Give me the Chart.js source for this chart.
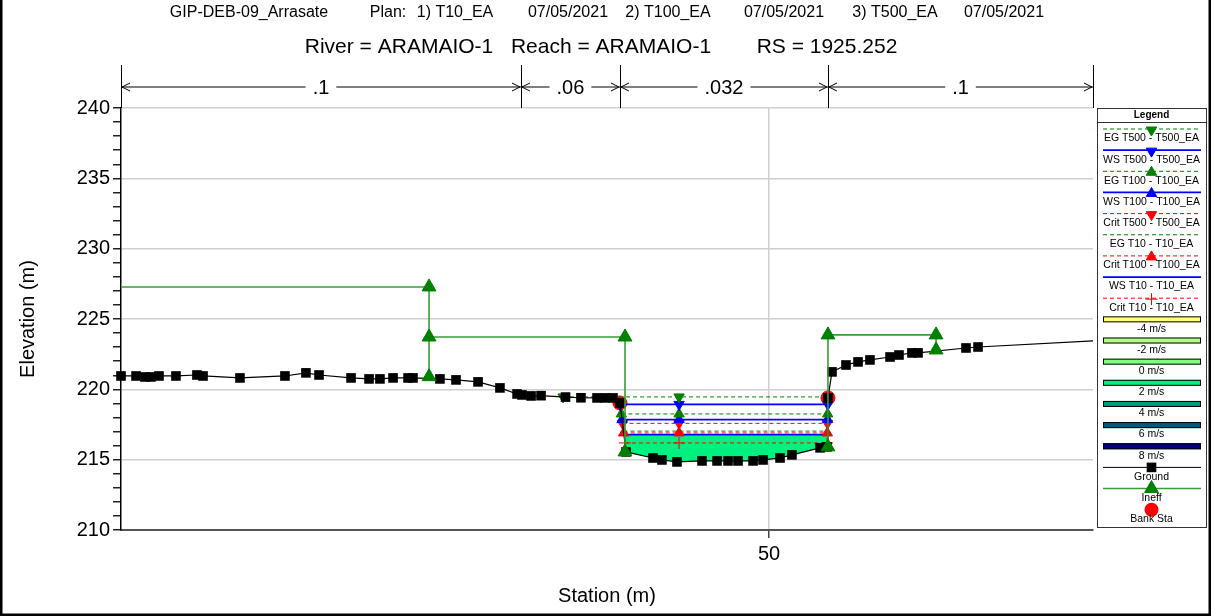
<!DOCTYPE html>
<html>
<head>
<meta charset="utf-8">
<script src="https://cdn.jsdelivr.net/npm/chart.js@4.4.1/dist/chart.umd.min.js"></script>
<style>
  html, body { margin: 0; padding: 0; background: #fff; }
  #seccion { display: block; }
</style>
</head>
<body>
<canvas id="seccion" width="1212" height="616"></canvas>
<script>
// Cross section RS 1925.252 - stations and elevations in metres
const groundSta = [0, 1.16, 1.85, 2.31, 2.93, 4.24, 5.86, 6.33, 9.18, 12.65, 14.27, 15.28, 17.75, 19.14, 19.98,
    20.99, 22.15, 22.53, 24.61, 25.85, 27.55, 29.24, 30.56, 30.94, 31.64, 32.41, 34.3, 35.49, 36.73, 37.35,
    37.96, 38.5, 38.97, 41.05, 41.74, 42.9, 44.83, 45.99, 46.84, 47.61, 48.77, 49.54, 50.85, 51.77, 53.94,
    54.48, 54.55, 54.86, 55.94, 56.87, 57.79, 59.34, 60.03, 61.03, 61.5, 65.2, 66.13, 77.1];
const groundElev = [220.95, 220.95, 220.88, 220.88, 220.95, 220.95, 221.02, 220.95, 220.81, 220.95, 221.17, 221.02,
    220.81, 220.74, 220.74, 220.81, 220.81, 220.81, 220.74, 220.67, 220.53, 220.1, 219.67, 219.6, 219.53, 219.55,
    219.45, 219.4, 219.39, 219.39, 219.39, 219.03, 215.55, 215.12, 214.98, 214.84, 214.91, 214.91, 214.91, 214.91,
    214.91, 214.98, 215.12, 215.34, 215.84, 215.91, 219.39, 221.24, 221.73, 221.95, 222.09, 222.3, 222.44, 222.59,
    222.59, 222.94, 223.01, 223.54];

const bankSta = [38.5, 54.55];
const bankElev = [219.03, 219.39];

// ineffective flow areas, null breaks the polyline
const ineffSta = [0, 23.77, 23.77, null, 23.77, 38.89, 38.89, null, 54.55, 54.55, 62.89, 62.89];
const ineffElev = [227.28, 227.28, 220.9, null, 223.72, 223.72, 215.55, null, 215.91, 223.87, 223.87, 222.8];
const ineffMark = [false, true, true, false, true, true, true, false, true, true, true, true];

const profileNames = ['EG T500 - T500_EA', 'WS T500 - T500_EA', 'EG T100 - T100_EA', 'WS T100 - T100_EA',
    'Crit T500 - T500_EA', 'EG T10 - T10_EA', 'Crit T100 - T100_EA', 'WS T10 - T10_EA', 'Crit T10 - T10_EA'];
const profileElev = [219.46, 218.93, 218.25, 217.85, 217.58, 217.03, 216.9, 216.78, 216.19];
const markerSta = 43.06;

const nBreaks = [0, 30.86, 38.5, 54.55, 77.1];
const nValues = ['.1', '.06', '.032', '.1'];

const velLabels = ['-4 m/s', '-2 m/s', '0 m/s', '2 m/s', '4 m/s', '6 m/s', '8 m/s'];
const velColors = ['#FFFF80', '#B4FF78', '#80FF80', '#00F080', '#009E80', '#005A80', '#000080'];

const xTicks = [50];
const yMin = 210, yMax = 240, xMin = 0, xMax = 75;

const tituloPlan = [
    ['GIP-DEB-09_Arrasate', 249], ['Plan:', 388], ['1) T10_EA', 455], ['07/05/2021', 568],
    ['2) T100_EA', 668], ['07/05/2021', 784], ['3) T500_EA', 895], ['07/05/2021', 1004]
];
const tituloRS = [['River = ARAMAIO-1', 399], ['Reach = ARAMAIO-1', 611], ['RS = 1925.252', 827]];

const FUENTE = 'Arial, "Liberation Sans", sans-serif';
const VERDE = '#008000', AZUL = '#0000FF', ROJO = '#FF0000';

// line style per profile (same order as profileNames)
const estilos = [
    {color: VERDE, dash: [4, 3], width: 1, marker: 'down'},
    {color: AZUL, dash: [], width: 1.8, marker: 'down'},
    {color: VERDE, dash: [4, 3], width: 1, marker: 'up'},
    {color: AZUL, dash: [], width: 1.8, marker: 'up'},
    {color: ROJO, dash: [4, 3], width: 1, marker: 'down'},
    {color: VERDE, dash: [4, 3], width: 1, marker: null},
    {color: ROJO, dash: [4, 3], width: 1, marker: 'up'},
    {color: AZUL, dash: [], width: 1.8, marker: null},
    {color: ROJO, dash: [4, 3], width: 1, marker: 'cross'}
];

function interpolar(i, j, nivel) {
    const t = (nivel - groundElev[i]) / (groundElev[j] - groundElev[i]);
    return groundSta[i] + t * (groundSta[j] - groundSta[i]);
}

// walks out from the thalweg until the ground is above the water level
function bordesAgua(nivel) {
    let fondo = 0;
    groundElev.forEach((z, k) => { if (z < groundElev[fondo]) fondo = k; });
    let i = fondo;
    while (i > 0 && groundElev[i - 1] < nivel) i--;
    let j = fondo;
    while (j < groundElev.length - 1 && groundElev[j + 1] < nivel) j++;
    return {
        izq: interpolar(i - 1, i, nivel), der: interpolar(j + 1, j, nivel), iIzq: i, iDer: j
    };
}

function marcador(tipo) {
    if (tipo === 'cross') return {pointStyle: 'cross', rotation: 0};
    return {pointStyle: 'triangle', rotation: tipo === 'down' ? 180 : 0};
}

const datasets = [];

// wetted area under WS T10
const bordeT10 = bordesAgua(profileElev[7]);
const mojado = [{x: bordeT10.izq, y: profileElev[7]}, {x: bordeT10.der, y: profileElev[7]}];
for (let k = bordeT10.iDer; k >= bordeT10.iIzq; k--) {
    mojado.push({x: groundSta[k], y: groundElev[k]});
}
datasets.push({
    data: mojado, fill: 'shape', backgroundColor: '#00F080', borderWidth: 0,
    pointRadius: 0, order: 50
});

datasets.push({
    data: bankSta.map((s, k) => ({x: s, y: bankElev[k]})),
    showLine: false, pointStyle: 'circle', pointRadius: 7,
    pointBackgroundColor: ROJO, pointBorderColor: ROJO, order: 40
});

profileElev.forEach((nivel, k) => {
    const b = bordesAgua(nivel);
    const e = estilos[k];
    const m = marcador(e.marker);
    datasets.push({
        data: [{x: b.izq, y: nivel}, {x: markerSta, y: nivel}, {x: b.der, y: nivel}],
        borderColor: e.color, borderWidth: e.width, borderDash: e.dash,
        pointRadius: e.marker ? 6 : 0,
        pointStyle: m.pointStyle, pointRotation: m.rotation,
        pointBackgroundColor: e.color, pointBorderColor: e.color, pointBorderWidth: 1,
        order: 30
    });
});

datasets.push({
    data: groundSta.map((s, k) => ({x: s, y: groundElev[k]})),
    borderColor: '#000', borderWidth: 1.2,
    pointStyle: 'rect', pointRadius: 6.8,
    pointBackgroundColor: '#000', pointBorderColor: '#000', pointBorderWidth: 0,
    clip: {left: 10, right: 0, top: 0, bottom: 0}, order: 20
});

datasets.push({
    data: ineffSta.map((s, k) => ({x: s === null ? NaN : s, y: ineffElev[k]})),
    borderColor: '#3C9A3C', borderWidth: 1.6, spanGaps: false,
    pointStyle: 'triangle', pointRadius: ineffMark.map(v => v ? 8 : 0),
    pointBackgroundColor: VERDE, pointBorderColor: VERDE, pointBorderWidth: 1,
    clip: false, order: 10
});

function dibujarFlecha(ctx, x, y, dir) {
    ctx.beginPath();
    ctx.moveTo(x + dir * 8, y - 4);
    ctx.lineTo(x, y);
    ctx.lineTo(x + dir * 8, y + 4);
    ctx.stroke();
}

const decoracion = {
    id: 'decoracion',
    afterDraw(chart) {
        const ctx = chart.ctx;
        const xs = chart.scales.x;
        const area = chart.chartArea;
        const W = chart.width, H = chart.height;
        ctx.save();

        // titles
        ctx.fillStyle = '#000';
        ctx.textAlign = 'center';
        ctx.textBaseline = 'middle';
        ctx.font = '16px ' + FUENTE;
        tituloPlan.forEach(([t, x]) => ctx.fillText(t, x, 13));
        ctx.font = '21px ' + FUENTE;
        tituloRS.forEach(([t, x]) => ctx.fillText(t, x, 47));

        // Manning's n bar
        const yBar = 87;
        const px = nBreaks.map(s => Math.max(area.left, Math.min(area.right, xs.getPixelForValue(s))));
        ctx.strokeStyle = '#000';
        ctx.lineWidth = 1;
        px.forEach(x => {
            ctx.beginPath();
            ctx.moveTo(Math.round(x) + 0.5, 65);
            ctx.lineTo(Math.round(x) + 0.5, area.top);
            ctx.stroke();
        });
        ctx.font = '20px ' + FUENTE;
        nValues.forEach((n, k) => {
            const a = px[k], b = px[k + 1], c = (a + b) / 2;
            const w = ctx.measureText(n).width / 2 + 7;
            ctx.beginPath();
            ctx.moveTo(a, yBar); ctx.lineTo(c - w, yBar);
            ctx.moveTo(c + w, yBar); ctx.lineTo(b, yBar);
            ctx.stroke();
            dibujarFlecha(ctx, a + 1, yBar, 1);
            dibujarFlecha(ctx, b - 1, yBar, -1);
            ctx.fillText(n, c, yBar + 1);
        });

        // legend panel
        const L = 1097, T = 108, R = 1206, B = 527;
        const cx = (L + R) / 2, x0 = 1103, x1 = 1201, paso = 21.15;
        ctx.fillStyle = '#fff';
        ctx.fillRect(L, T, R - L, B - T);
        ctx.strokeStyle = '#333';
        ctx.lineWidth = 1;
        ctx.strokeRect(L + 0.5, T + 0.5, R - L, B - T);
        ctx.beginPath();
        ctx.moveTo(L, T + 14.5); ctx.lineTo(R, T + 14.5);
        ctx.stroke();
        ctx.fillStyle = '#000';
        ctx.font = 'bold 10px ' + FUENTE;
        ctx.fillText('Legend', cx, T + 7.5);

        const texto = (t, y) => {
            ctx.fillStyle = '#000';
            ctx.font = '10.5px ' + FUENTE;
            ctx.fillText(t, cx, y + 9.5);
        };
        const punto = (opts, color, y) => {
            ctx.fillStyle = color;
            ctx.strokeStyle = color;
            ctx.lineWidth = 1;
            ctx.setLineDash([]);
            Chart.helpers.drawPoint(ctx, opts, cx, y);
        };

        let y = 129;
        profileNames.forEach((nombre, k) => {
            const e = estilos[k];
            ctx.strokeStyle = e.color;
            ctx.lineWidth = e.width;
            ctx.setLineDash(e.dash);
            ctx.beginPath();
            ctx.moveTo(x0, y); ctx.lineTo(x1, y);
            ctx.stroke();
            ctx.setLineDash([]);
            if (e.marker) {
                const m = marcador(e.marker);
                punto({pointStyle: m.pointStyle, rotation: m.rotation, radius: 6, borderWidth: 1}, e.color, y + 1);
            }
            texto(nombre, y);
            y += paso;
        });
        velLabels.forEach((v, k) => {
            ctx.fillStyle = velColors[k];
            ctx.fillRect(x0, y - 3, x1 - x0, 6);
            ctx.strokeStyle = '#000';
            ctx.lineWidth = 1;
            ctx.strokeRect(x0 + 0.5, y - 2.5, x1 - x0 - 1, 5);
            texto(v, y);
            y += paso;
        });
        ctx.strokeStyle = '#000';
        ctx.lineWidth = 1;
        ctx.beginPath(); ctx.moveTo(x0, y); ctx.lineTo(x1, y); ctx.stroke();
        punto({pointStyle: 'rect', rotation: 0, radius: 6.8, borderWidth: 0}, '#000', y);
        texto('Ground', y);
        y += paso;
        ctx.strokeStyle = '#3C9A3C';
        ctx.lineWidth = 1.5;
        ctx.beginPath(); ctx.moveTo(x0, y); ctx.lineTo(x1, y); ctx.stroke();
        punto({pointStyle: 'triangle', rotation: 0, radius: 8, borderWidth: 1}, VERDE, y);
        texto('Ineff', y);
        y += paso;
        punto({pointStyle: 'circle', rotation: 0, radius: 7, borderWidth: 0}, ROJO, y);
        texto('Bank Sta', y);

        // outer frame
        ctx.strokeStyle = '#000';
        ctx.lineWidth = 2.5;
        ctx.beginPath();
        ctx.moveTo(1.25, 0); ctx.lineTo(1.25, H - 1.25);
        ctx.lineTo(W - 2.25, H - 1.25); ctx.lineTo(W - 2.25, 0);
        ctx.stroke();
        ctx.restore();
    }
};

new Chart(document.getElementById('seccion'), {
    type: 'line',
    data: {datasets: datasets},
    options: {
        responsive: false,
        animation: false,
        devicePixelRatio: 1,
        layout: {padding: {top: 108, right: 119, left: 0, bottom: 0}},
        elements: {line: {tension: 0}},
        plugins: {legend: {display: false}, tooltip: {enabled: false}, title: {display: false}},
        scales: {
            x: {
                type: 'linear', min: xMin, max: xMax,
                afterBuildTicks: s => { s.ticks = xTicks.map(v => ({value: v})); },
                afterFit: s => { s.height = 86; },
                ticks: {font: {family: FUENTE, size: 20}, color: '#000', padding: 4, maxRotation: 0},
                grid: {color: '#D0D0D0', lineWidth: 1.5, tickColor: '#444', tickLength: 8},
                border: {color: '#555', width: 2},
                title: {display: true, text: 'Station (m)', font: {family: FUENTE, size: 20}, color: '#000',
                    padding: {top: 0, bottom: 8}}
            },
            y: {
                min: yMin, max: yMax,
                afterFit: s => { s.width = 121; },
                ticks: {
                    stepSize: 1, autoSkip: false, font: {family: FUENTE, size: 20}, color: '#000', padding: 3,
                    callback: v => (v % 5 === 0 ? v : '')
                },
                grid: {
                    color: c => (c.tick && c.tick.value % 5 === 0 ? '#D0D0D0' : 'rgba(0,0,0,0)'),
                    lineWidth: 1.5, tickColor: '#222', tickLength: 8
                },
                border: {color: '#000', width: 1.5},
                title: {display: true, text: 'Elevation (m)', font: {family: FUENTE, size: 20}, color: '#000',
                    padding: {top: 16, bottom: 0}}
            }
        }
    },
    plugins: [decoracion]
});
</script>
</body>
</html>
